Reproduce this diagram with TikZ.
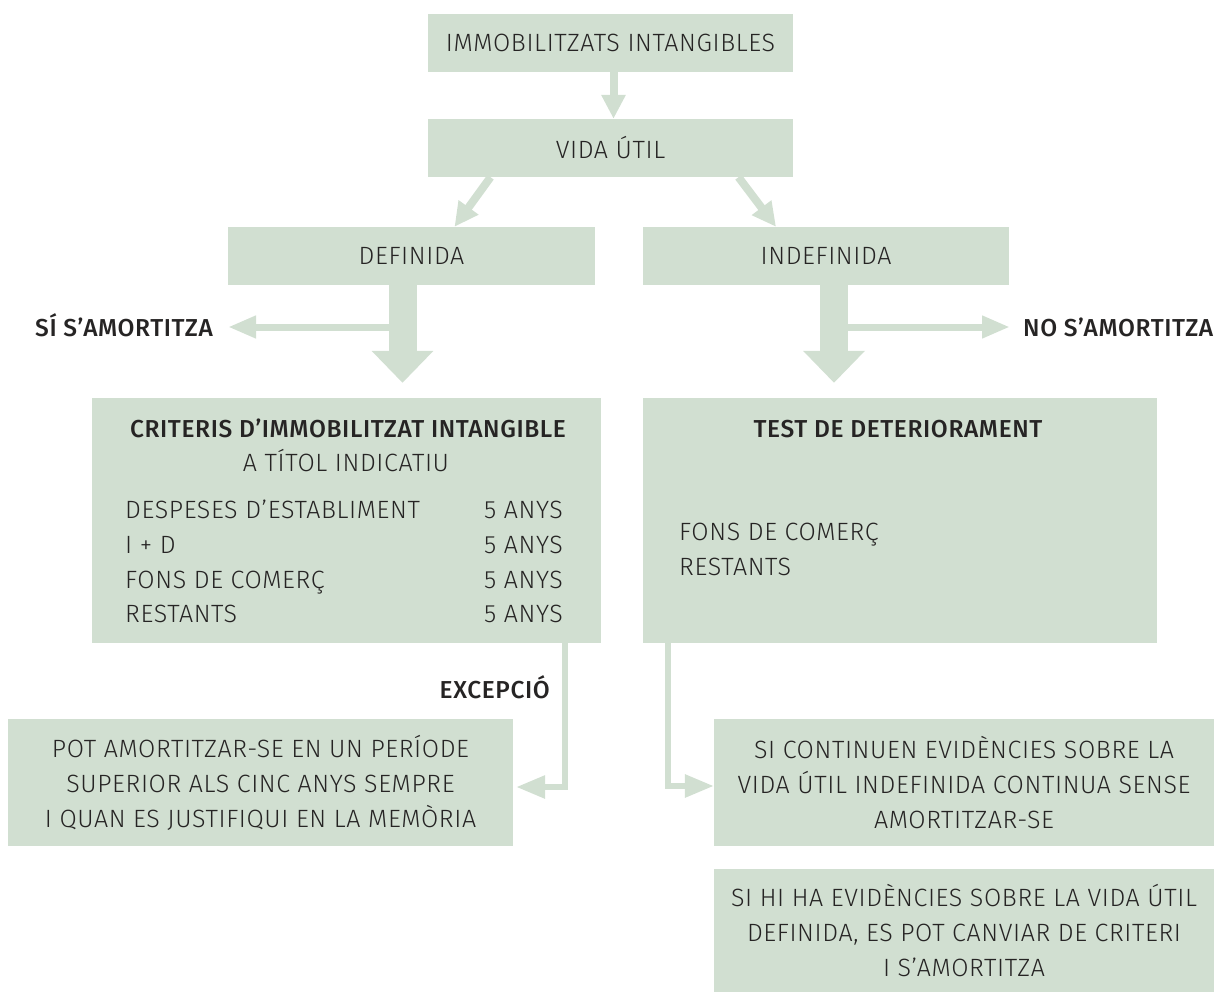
\documentclass[tikz,border=0pt]{standalone}
\usepackage{fontspec}
\setmainfont{Fira Sans Light}[BoldFont={Fira Sans Medium},LetterSpace=2.5]
\usetikzlibrary{arrows.meta}
\definecolor{boxgreen}{RGB}{209,223,209}
\definecolor{inkgrey}{RGB}{38,36,36}

\begin{document}
\begin{tikzpicture}
	[x=1pt,y=-1pt,
	 every node/.style={text=inkgrey,font=\fontsize{25}{35}\selectfont,inner sep=0pt},
	 box/.style={fill=boxgreen,align=center},
	 item/.style={anchor=base west},
	 label/.style={font=\fontsize{24.5}{35}\selectfont\bfseries},
	 thin/.style={draw=boxgreen,line width=8pt,-{Triangle[width=23pt,length=24pt]}},
	 fat/.style={draw=boxgreen,line width=28pt,-{Triangle[width=60pt,length=32pt]}},
	 side/.style={draw=boxgreen,line width=7pt,-{Triangle[width=21pt,length=28pt]}},
	 link/.style={draw=boxgreen,line width=6pt,-{Triangle[width=22pt,length=29pt]}}]
	\useasboundingbox (0,0) rectangle (1214,992);

	\node[box,minimum width=365pt,minimum height=58pt] (imm) at (610.5,43) {IMMOBILITZATS INTANGIBLES};
	\node[box,minimum width=365pt,minimum height=58pt] (vida) at (610.5,148) {VIDA ÚTIL};
	\node[box,minimum width=367pt,minimum height=58pt] (def) at (411.5,256) {DEFINIDA};
	\node[box,minimum width=366pt,minimum height=58pt] (indef) at (826,256) {INDEFINIDA};
	\node[box,minimum width=509pt,minimum height=245pt] (crit) at (346.5,520.5) {};
	\node[box,minimum width=514pt,minimum height=245pt] (test) at (900,520.5) {};
	\node[box,minimum width=505pt,minimum height=127pt] (pot) at (260.5,782.5)
		{POT AMORTITZAR-SE EN UN PERÍODE\\SUPERIOR ALS CINC ANYS SEMPRE\\I QUAN ES JUSTIFIQUI EN LA MEMÒRIA};
	\node[box,minimum width=500pt,minimum height=127pt] (cont) at (964,782.5)
		{SI CONTINUEN EVIDÈNCIES SOBRE LA\\VIDA ÚTIL INDEFINIDA CONTINUA SENSE\\AMORTITZAR-SE};
	\node[box,minimum width=500pt,minimum height=123pt] (canvi) at (964,930.5)
		{SI HI HA EVIDÈNCIES SOBRE LA VIDA ÚTIL\\DEFINIDA, ES POT CANVIAR DE CRITERI\\I S’AMORTITZA};

	% text inside the two big boxes
	\node[label,anchor=base] (crittitle) at (348,437) {CRITERIS D’IMMOBILITZAT INTANGIBLE};
	\node[anchor=base] (critsub) at (346,471) {A TÍTOL INDICATIU};
	\foreach \n/\t/\y in {1/DESPESES D’ESTABLIMENT/518,2/I + D/553,3/FONS DE COMERÇ/588,4/RESTANTS/622}{
		\node[item] (row\n) at (125,\y) {\t};
		\node[anchor=base east] (yrs\n) at (563,\y) {5 ANYS};
	}
	\node[label,anchor=base] (testtitle) at (898,437) {TEST DE DETERIORAMENT};
	\node[item] (fons) at (679,540) {FONS DE COMERÇ};
	\node[item] (rest) at (679,575) {RESTANTS};

	% labels on the arrows
	\node[label,anchor=base east] (si) at (213,336) {SÍ S’AMORTITZA};
	\node[label,anchor=base west] (no) at (1023,336) {NO S’AMORTITZA};
	\node[label,anchor=base east] (exc) at (550,698) {EXCEPCIÓ};

	\coordinate (defout) at (402.5,327);
	\coordinate (indout) at (834,327);

	\draw[thin] ([xshift=3pt]imm.south) -- ([xshift=3pt]vida.north);
	\draw[thin] ([xshift=-120pt]vida.south) -- ([xshift=43pt]def.north);
	\draw[thin] ([xshift=128pt]vida.south) -- ([xshift=-50pt]indef.north);
	\draw[fat,shorten >=15pt] ([xshift=-9pt]def.south) -- ([xshift=-9pt]def.south |- crit.north);
	\draw[fat,shorten >=15pt] ([xshift=8pt]indef.south) -- ([xshift=8pt]indef.south |- test.north);
	\draw[side,shorten >=15pt] (defout) -- (defout -| si.east);
	\draw[side,shorten >=13pt] (indout) -- (indout -| no.west);
	\draw[link,shorten >=3pt] ([xshift=-36pt]crit.south east) |- ([yshift=-4.5pt]pot.east);
	\draw[link] ([xshift=25pt]test.south west) |- ([yshift=-3.5pt]cont.west);
\end{tikzpicture}
\end{document}
